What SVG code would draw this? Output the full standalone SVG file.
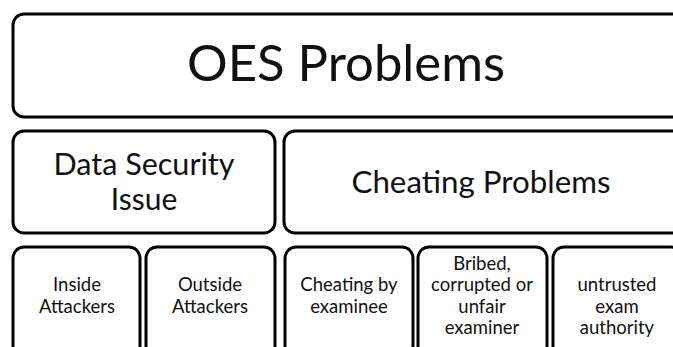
<svg xmlns="http://www.w3.org/2000/svg" width="673" height="347" viewBox="0 0 673 347">
  <style>
    .box { fill: #ffffff; stroke: #000000; stroke-width: 3; }
    text { font-family: Lato, "Open Sans", "Liberation Sans", sans-serif; fill: #111111; text-anchor: middle; }
    .t1 { font-size: 50px; }
    .t2 { font-size: 30px; }
    .t3 { font-size: 18.5px; }
  </style>
  <rect width="673" height="347" fill="#ffffff"/>

  <!-- top level -->
  <g id="oes-problems">
    <rect class="box" x="13" y="14" width="670" height="103" rx="11"/>
    <text class="t1" x="346" y="81" textLength="318" lengthAdjust="spacingAndGlyphs">OES Problems</text>
  </g>

  <!-- second level -->
  <g id="data-security">
    <rect class="box" x="13" y="131" width="262" height="102" rx="11"/>
    <text class="t2" x="144" y="175" textLength="181" lengthAdjust="spacingAndGlyphs">Data Security</text>
    <text class="t2" x="144" y="210">Issue</text>
  </g>
  <g id="cheating-problems">
    <rect class="box" x="284" y="131" width="399" height="102" rx="11"/>
    <text class="t2" x="481" y="193" textLength="259" lengthAdjust="spacingAndGlyphs">Cheating Problems</text>
  </g>

  <!-- third level -->
  <g id="inside-attackers">
    <rect class="box" x="13" y="247" width="127" height="110" rx="11"/>
    <text class="t3" x="77" y="291">Inside</text>
    <text class="t3" x="77" y="313">Attackers</text>
  </g>
  <g id="outside-attackers">
    <rect class="box" x="146" y="247" width="129" height="110" rx="11"/>
    <text class="t3" x="210" y="291">Outside</text>
    <text class="t3" x="210" y="313">Attackers</text>
  </g>
  <g id="cheating-by-examinee">
    <rect class="box" x="285" y="247" width="128" height="110" rx="11"/>
    <text class="t3" x="349" y="291">Cheating by</text>
    <text class="t3" x="349" y="313">examinee</text>
  </g>
  <g id="bribed-examiner">
    <rect class="box" x="418" y="247" width="129" height="110" rx="11"/>
    <text class="t3" x="482" y="270">Bribed,</text>
    <text class="t3" x="482" y="291">corrupted or</text>
    <text class="t3" x="482" y="313">unfair</text>
    <text class="t3" x="482" y="334">examiner</text>
  </g>
  <g id="untrusted-authority">
    <rect class="box" x="553" y="247" width="129" height="110" rx="11"/>
    <text class="t3" x="617" y="291">untrusted</text>
    <text class="t3" x="617" y="313">exam</text>
    <text class="t3" x="617" y="334">authority</text>
  </g>

  <g id="connectors"></g>
</svg>
